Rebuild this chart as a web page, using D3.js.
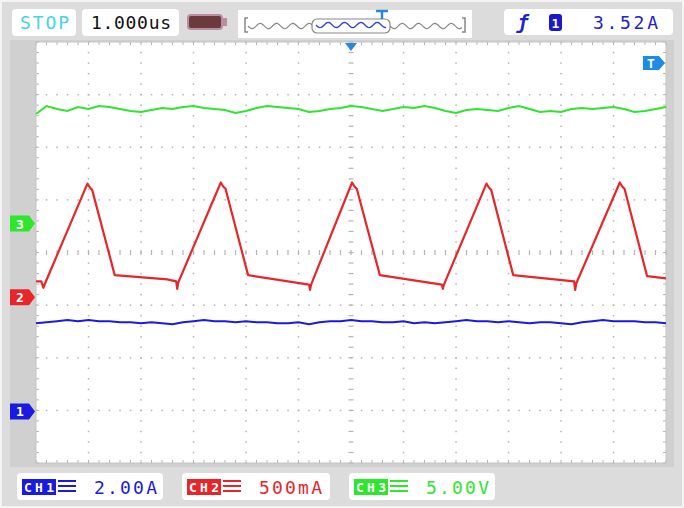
<!DOCTYPE html>
<html>
<head>
<meta charset="utf-8">
<script src="https://cdn.jsdelivr.net/npm/d3@7/dist/d3.min.js"></script>
<style>
  html, body { margin: 0; padding: 0; background: #fff; }
  svg { display: block; }
</style>
</head>
<body>
<svg id="scope" width="684" height="508"></svg>
<script>
// timebase 1.000us/div, 12 divisions wide, 8 divisions high
const timeDomain = [-6, 6];
const divDomain = [-4, 4];

// channel settings
const channelNames = ['CH1', 'CH2', 'CH3'];
const channelScaleText = ['2.00A', '500mA', '5.00V'];
const channelScale = [2.0, 0.5, 5.0];
const channelOffset = [-3.02, -0.85, 0.55];
const channelColour = ['#1a1ae0', '#e8262a', '#2ee62e'];

// CH2 - inductor current (A), read at the corners of the waveform
const ch2Time = [-6.00, -5.90, -5.86, -5.82, -5.02, -4.97, -4.93, -4.50, -3.50, -3.33, -3.31, -3.29,
  -2.48, -2.43, -2.39, -1.96, -0.80, -0.78, -0.76, 0.02, 0.07, 0.11, 0.55, 1.73, 1.75, 1.77,
  2.58, 2.63, 2.67, 3.09, 4.25, 4.27, 4.29, 5.12, 5.17, 5.21, 5.64, 6.00];
const ch2Amps = [0.15, 0.15, 0.09, 0.14, 1.08, 1.04, 1.02, 0.21, 0.17, 0.15, 0.08, 0.14,
  1.09, 1.05, 1.03, 0.21, 0.12, 0.07, 0.12, 1.09, 1.05, 1.03, 0.21, 0.12, 0.08, 0.12,
  1.08, 1.04, 1.02, 0.21, 0.15, 0.07, 0.13, 1.09, 1.05, 1.03, 0.20, 0.18];

// CH3 - output voltage (V), one sample every 0.2us
const ch3Volts = [10.41, 11.17, 10.88, 10.69, 11.07, 10.88, 11.17, 11.07, 10.88, 10.69,
  10.60, 10.79, 10.98, 10.88, 11.07, 11.17, 10.98, 10.88, 10.79, 10.50,
  10.69, 10.98, 11.17, 11.07, 10.98, 10.88, 10.60, 10.69, 10.88, 10.98,
  11.17, 11.07, 10.88, 10.69, 10.88, 11.07, 10.98, 11.17, 10.98, 10.69,
  10.50, 10.79, 10.88, 10.79, 10.69, 10.98, 11.17, 10.88, 10.60, 10.69,
  10.60, 10.88, 10.98, 10.88, 10.98, 11.07, 10.88, 10.60, 10.69, 10.88, 11.07];

// CH1 - input current (A), one sample every 0.2us
const ch1Amps = [3.35, 3.39, 3.43, 3.47, 3.43, 3.47, 3.43, 3.43, 3.39, 3.39,
  3.35, 3.39, 3.35, 3.31, 3.39, 3.43, 3.47, 3.43, 3.43, 3.39,
  3.43, 3.39, 3.39, 3.35, 3.35, 3.39, 3.31, 3.39, 3.43, 3.43,
  3.47, 3.43, 3.43, 3.39, 3.39, 3.43, 3.35, 3.39, 3.35, 3.39,
  3.43, 3.47, 3.43, 3.43, 3.39, 3.43, 3.39, 3.35, 3.39, 3.39,
  3.35, 3.31, 3.39, 3.43, 3.47, 3.43, 3.43, 3.43, 3.39, 3.39, 3.35];
const sampleStep = 0.2;

const mono = '"DejaVu Sans Mono", monospace';
const svg = d3.select('#scope');

const plot = { left: 36, right: 666, top: 42, bottom: 463 };
const x = d3.scaleLinear().domain(timeDomain).range([plot.left, plot.right]);
const y = d3.scaleLinear().domain(divDomain).range([plot.bottom, plot.top]);
const chY = (ch, v) => y(channelOffset[ch] + v / channelScale[ch]);

// background + frame
svg.append('rect').attr('width', 684).attr('height', 508).attr('fill', '#f4f4f4');
svg.append('rect').attr('x', 2).attr('y', 2).attr('width', 680).attr('height', 504).attr('fill', '#dcdcdc');
svg.append('rect').attr('x', 10).attr('y', 40).attr('width', 664).attr('height', 427).attr('fill', '#d0d0d0');
svg.append('rect')
  .attr('x', plot.left).attr('y', plot.top)
  .attr('width', plot.right - plot.left).attr('height', plot.bottom - plot.top)
  .attr('fill', '#fff');

// grid
const grid = svg.append('g').attr('class', 'grid');
const minor = 0.2;
const gridCol = '#b4b4b4';
d3.range(-5, 6).forEach(i => {
  if (i === 0) return;
  d3.range(-4, 4.0001, minor).forEach(j => {
    grid.append('rect').attr('x', x(i) - 0.7).attr('y', y(j) - 0.7)
      .attr('width', 1.5).attr('height', 1.5).attr('fill', gridCol);
  });
});
d3.range(-3, 4).forEach(j => {
  if (j === 0) return;
  d3.range(-6, 6.0001, minor).forEach(i => {
    grid.append('rect').attr('x', x(i) - 0.7).attr('y', y(j) - 0.7)
      .attr('width', 1.5).attr('height', 1.5).attr('fill', gridCol);
  });
});
// centre cross with ticks
d3.range(-4, 4.0001, minor).forEach(j => {
  grid.append('line').attr('x1', x(0) - 2.5).attr('x2', x(0) + 2.5)
    .attr('y1', y(j)).attr('y2', y(j)).attr('stroke', gridCol).attr('stroke-width', 1.2);
});
d3.range(-6, 6.0001, minor).forEach(i => {
  grid.append('line').attr('x1', x(i)).attr('x2', x(i))
    .attr('y1', y(0) - 2.5).attr('y2', y(0) + 2.5).attr('stroke', gridCol).attr('stroke-width', 1.2);
});
// border ticks
d3.range(-6, 6.0001, minor).forEach(i => {
  grid.append('line').attr('x1', x(i)).attr('x2', x(i)).attr('y1', plot.top).attr('y2', plot.top + 3)
    .attr('stroke', gridCol);
  grid.append('line').attr('x1', x(i)).attr('x2', x(i)).attr('y1', plot.bottom - 3).attr('y2', plot.bottom)
    .attr('stroke', gridCol);
});
d3.range(-4, 4.0001, minor).forEach(j => {
  grid.append('line').attr('x1', plot.left).attr('x2', plot.left + 3).attr('y1', y(j)).attr('y2', y(j))
    .attr('stroke', gridCol);
  grid.append('line').attr('x1', plot.right - 3).attr('x2', plot.right).attr('y1', y(j)).attr('y2', y(j))
    .attr('stroke', gridCol);
});
svg.append('rect')
  .attr('x', plot.left).attr('y', plot.top)
  .attr('width', plot.right - plot.left).attr('height', plot.bottom - plot.top)
  .attr('fill', 'none').attr('stroke', '#c4c4c4');

// traces
const traces = svg.append('g').attr('class', 'traces');
const sampled = arr => arr.map((v, i) => ({ t: timeDomain[0] + i * sampleStep, v }));

traces.append('path')
  .datum(sampled(ch3Volts))
  .attr('fill', 'none').attr('stroke', channelColour[2]).attr('stroke-width', 2)
  .attr('d', d3.line().x(d => x(d.t)).y(d => chY(2, d.v)));

traces.append('path')
  .datum(sampled(ch1Amps))
  .attr('fill', 'none').attr('stroke', channelColour[0]).attr('stroke-width', 2)
  .attr('d', d3.line().x(d => x(d.t)).y(d => chY(0, d.v)));

traces.append('path')
  .datum(ch2Time.map((t, i) => ({ t, v: ch2Amps[i] })))
  .attr('fill', 'none').attr('stroke', channelColour[1]).attr('stroke-width', 2.2)
  .attr('stroke-linejoin', 'round')
  .attr('d', d3.line().x(d => x(d.t)).y(d => chY(1, d.v)));

// channel ground markers on the left
channelNames.forEach((name, ch) => {
  const my = y(channelOffset[ch]);
  const g = svg.append('g').attr('transform', `translate(10, ${my})`);
  g.append('path').attr('d', 'M0,-8 H19 L25,0 L19,8 H0 Z').attr('fill', channelColour[ch]);
  g.append('text').attr('x', 10).attr('y', 5).attr('text-anchor', 'middle')
    .attr('font-family', mono).attr('font-size', 13).attr('font-weight', 'bold')
    .attr('fill', '#fff').text(ch + 1);
});

// trigger position marker (top) and trigger level marker (right)
svg.append('path')
  .attr('d', `M${x(0) - 6},${plot.top + 1} H${x(0) + 6} L${x(0)},${plot.top + 9} Z`)
  .attr('fill', '#2a86e0');
const tg = svg.append('g').attr('transform', `translate(${plot.right - 23}, 63)`);
tg.append('path').attr('d', 'M0,-7 H16 L22,0 L16,7 H0 Z').attr('fill', '#1f8be8');
tg.append('text').attr('x', 8).attr('y', 5).attr('text-anchor', 'middle')
  .attr('font-family', mono).attr('font-size', 13).attr('font-weight', 'bold')
  .attr('fill', '#fff').text('T');

// top status bar
function box(x0, y0, w, h) {
  return svg.append('rect').attr('x', x0).attr('y', y0).attr('width', w).attr('height', h)
    .attr('rx', 4).attr('fill', '#fff');
}
box(12, 9, 64, 27);
svg.append('text').attr('x', 20).attr('y', 29).attr('font-family', mono).attr('font-size', 18)
  .attr('fill', '#46d3ee').attr('textLength', 49).text('STOP');
box(82, 9, 97, 27);
svg.append('text').attr('x', 91).attr('y', 29).attr('font-family', mono).attr('font-size', 18)
  .attr('fill', '#111').attr('textLength', 80).text('1.000us');

// battery icon
svg.append('rect').attr('x', 188).attr('y', 15).attr('width', 34).attr('height', 14).attr('rx', 3)
  .attr('fill', '#6a3a3c').attr('stroke', '#b98ea2').attr('stroke-width', 2);
svg.append('rect').attr('x', 223).attr('y', 18).attr('width', 4).attr('height', 8).attr('fill', '#b98ea2');

// memory overview bar
svg.append('rect').attr('x', 238).attr('y', 10).attr('width', 234).attr('height', 28).attr('fill', '#fff');
const squiggle = (x0, x1, yy) => {
  const pts = [];
  for (let px = x0; px <= x1; px += 1) pts.push([px, yy + 2.6 * Math.sin((px - x0) / 2.6)]);
  return d3.line()(pts);
};
svg.append('path').attr('d', 'M248,18 H245 V32 H248').attr('fill', 'none').attr('stroke', '#888').attr('stroke-width', 1.5);
svg.append('path').attr('d', 'M462,18 H465 V32 H462').attr('fill', 'none').attr('stroke', '#888').attr('stroke-width', 1.5);
svg.append('path').attr('d', squiggle(248, 312, 26)).attr('fill', 'none').attr('stroke', '#888').attr('stroke-width', 1.2);
svg.append('path').attr('d', squiggle(390, 462, 26)).attr('fill', 'none').attr('stroke', '#888').attr('stroke-width', 1.2);
svg.append('rect').attr('x', 312).attr('y', 19).attr('width', 78).attr('height', 14).attr('rx', 5)
  .attr('fill', '#fff').attr('stroke', '#888').attr('stroke-width', 1.2);
svg.append('path').attr('d', squiggle(316, 386, 25)).attr('fill', 'none').attr('stroke', '#3344dd').attr('stroke-width', 1.4);
svg.append('path').attr('d', 'M376,11 H388 M382,11 V19').attr('stroke', '#2a86e0').attr('stroke-width', 2.5);

// trigger info box
box(504, 9, 169, 26);
svg.append('text').attr('x', 517).attr('y', 29).attr('font-family', mono).attr('font-size', 19)
  .attr('font-style', 'italic').attr('font-weight', 'bold').attr('fill', '#2222cc').text('ƒ');
svg.append('rect').attr('x', 549).attr('y', 14).attr('width', 13).attr('height', 17).attr('rx', 3).attr('fill', '#1a1acc');
svg.append('text').attr('x', 555.5).attr('y', 28).attr('text-anchor', 'middle').attr('font-family', mono)
  .attr('font-size', 13).attr('font-weight', 'bold').attr('fill', '#fff').text('1');
svg.append('text').attr('x', 593).attr('y', 29).attr('font-family', mono).attr('font-size', 18)
  .attr('fill', '#2222cc').attr('textLength', 65).text('3.52A');

// bottom channel scale boxes
const boxX = [17, 182, 349];
const boxW = [146, 148, 146];
channelNames.forEach((name, ch) => {
  const bx = boxX[ch];
  const col = channelColour[ch];
  box(bx, 473, boxW[ch], 27);
  svg.append('rect').attr('x', bx + 5).attr('y', 479).attr('width', 34).attr('height', 16).attr('fill', col);
  svg.append('text').attr('x', bx + 22).attr('y', 492).attr('text-anchor', 'middle')
    .attr('font-family', mono).attr('font-size', 13).attr('font-weight', 'bold')
    .attr('fill', '#fff').attr('textLength', 30).text(name);
  [481, 486, 491].forEach(ly => {
    svg.append('line').attr('x1', bx + 41).attr('x2', bx + 59).attr('y1', ly).attr('y2', ly)
      .attr('stroke', col).attr('stroke-width', 2);
  });
  svg.append('text').attr('x', bx + 77).attr('y', 494).attr('font-family', mono).attr('font-size', 18)
    .attr('fill', col).attr('textLength', 63).text(channelScaleText[ch]);
});
</script>
</body>
</html>
